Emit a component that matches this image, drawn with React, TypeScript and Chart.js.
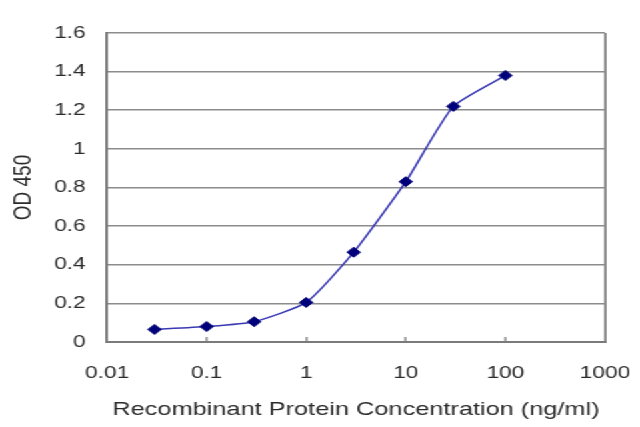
import { useEffect, useRef } from "react";
import { Chart, registerables } from "chart.js";

Chart.register(...registerables);

// concentration (ng/ml) and OD 450 readings
const concentrations = [0.03, 0.1, 0.3, 1, 3, 10, 30, 100];
const odValues = [0.065, 0.08, 0.105, 0.205, 0.465, 0.83, 1.22, 1.38];
const xTicks = [0.01, 0.1, 1, 10, 100, 1000];

const GRID = "#8c8c8c";
const TEXT = "#2b2b2b";
const FONT = "'Liberation Sans', Arial, sans-serif";

// the reference is stretched sideways, so the chart is drawn narrow and scaled
const STRETCH = 4 / 3;
const BASE_W = 640 / STRETCH;

export default function App() {
  const chartRef = useRef<HTMLCanvasElement>(null);
  const chartInstance = useRef<Chart | null>(null);

  useEffect(() => {
    if (!chartRef.current) return;
    if (chartInstance.current) chartInstance.current.destroy();

    const ctx = chartRef.current.getContext("2d");
    if (!ctx) return;

    chartInstance.current = new Chart(ctx, {
      type: "line",
      data: {
        datasets: [
          {
            data: concentrations.map((c, i) => ({ x: c, y: odValues[i] })),
            borderColor: "#3a3ab4",
            borderWidth: 1.6,
            tension: 0.18,
            pointStyle: "rectRot",
            pointRadius: 5,
            pointBackgroundColor: "#00007a",
            pointBorderColor: "#00007a",
            pointBorderWidth: 1,
            fill: false,
          },
        ],
      },
      options: {
        animation: false,
        responsive: true,
        maintainAspectRatio: false,
        layout: { padding: { left: 0, top: 33, right: 26.25, bottom: 0 } },
        plugins: {
          legend: { display: false },
          tooltip: { enabled: false },
        },
        scales: {
          x: {
            type: "logarithmic",
            min: 0.01,
            max: 1000,
            afterBuildTicks: (scale) => {
              scale.ticks = xTicks.map((v) => ({ value: v }));
            },
            afterFit: (scale) => {
              scale.height = 85;
              scale.paddingLeft = 0;
              scale.paddingRight = 0;
            },
            ticks: {
              autoSkip: false,
              maxRotation: 0,
              padding: 26,
              color: TEXT,
              font: { family: FONT, size: 17 },
              callback: (v) => String(Number(v)),
            },
            grid: {
              color: (c) => (c.tick && c.tick.value === 1000 ? GRID : "transparent"),
              lineWidth: 2,
              drawTicks: true,
              tickLength: -5,
              tickColor: GRID,
              tickWidth: 1.5,
            },
            border: { color: "#7a7a7a", width: 2 },
            title: {
              display: true,
              text: "Recombinant Protein Concentration (ng/ml)",
              color: TEXT,
              font: { family: FONT, size: 19 },
              padding: { top: 0, bottom: 6 },
            },
          },
          y: {
            min: 0,
            max: 1.6,
            afterFit: (scale) => {
              scale.width = 80.3;
              scale.paddingTop = 0;
              scale.paddingBottom = 0;
            },
            ticks: {
              stepSize: 0.2,
              padding: 16,
              color: TEXT,
              font: { family: FONT, size: 17 },
              callback: (v) => String(Number(Number(v).toFixed(1))),
            },
            grid: {
              color: GRID,
              lineWidth: 1.6,
              drawTicks: false,
            },
            border: { color: "#7a7a7a", width: 2 },
            title: {
              display: true,
              text: "OD 450",
              color: TEXT,
              font: { family: FONT, size: 19 },
              padding: { top: 6, bottom: 0 },
            },
          },
        },
      },
    });

    return () => {
      if (chartInstance.current) {
        chartInstance.current.destroy();
        chartInstance.current = null;
      }
    };
  }, []);

  return (
    <div
      style={{
        position: "absolute",
        left: 0,
        top: 0,
        width: BASE_W,
        height: 427,
        transform: `scaleX(${STRETCH})`,
        transformOrigin: "0 0",
        background: "#fff",
      }}
    >
      <canvas ref={chartRef} />
    </div>
  );
}
